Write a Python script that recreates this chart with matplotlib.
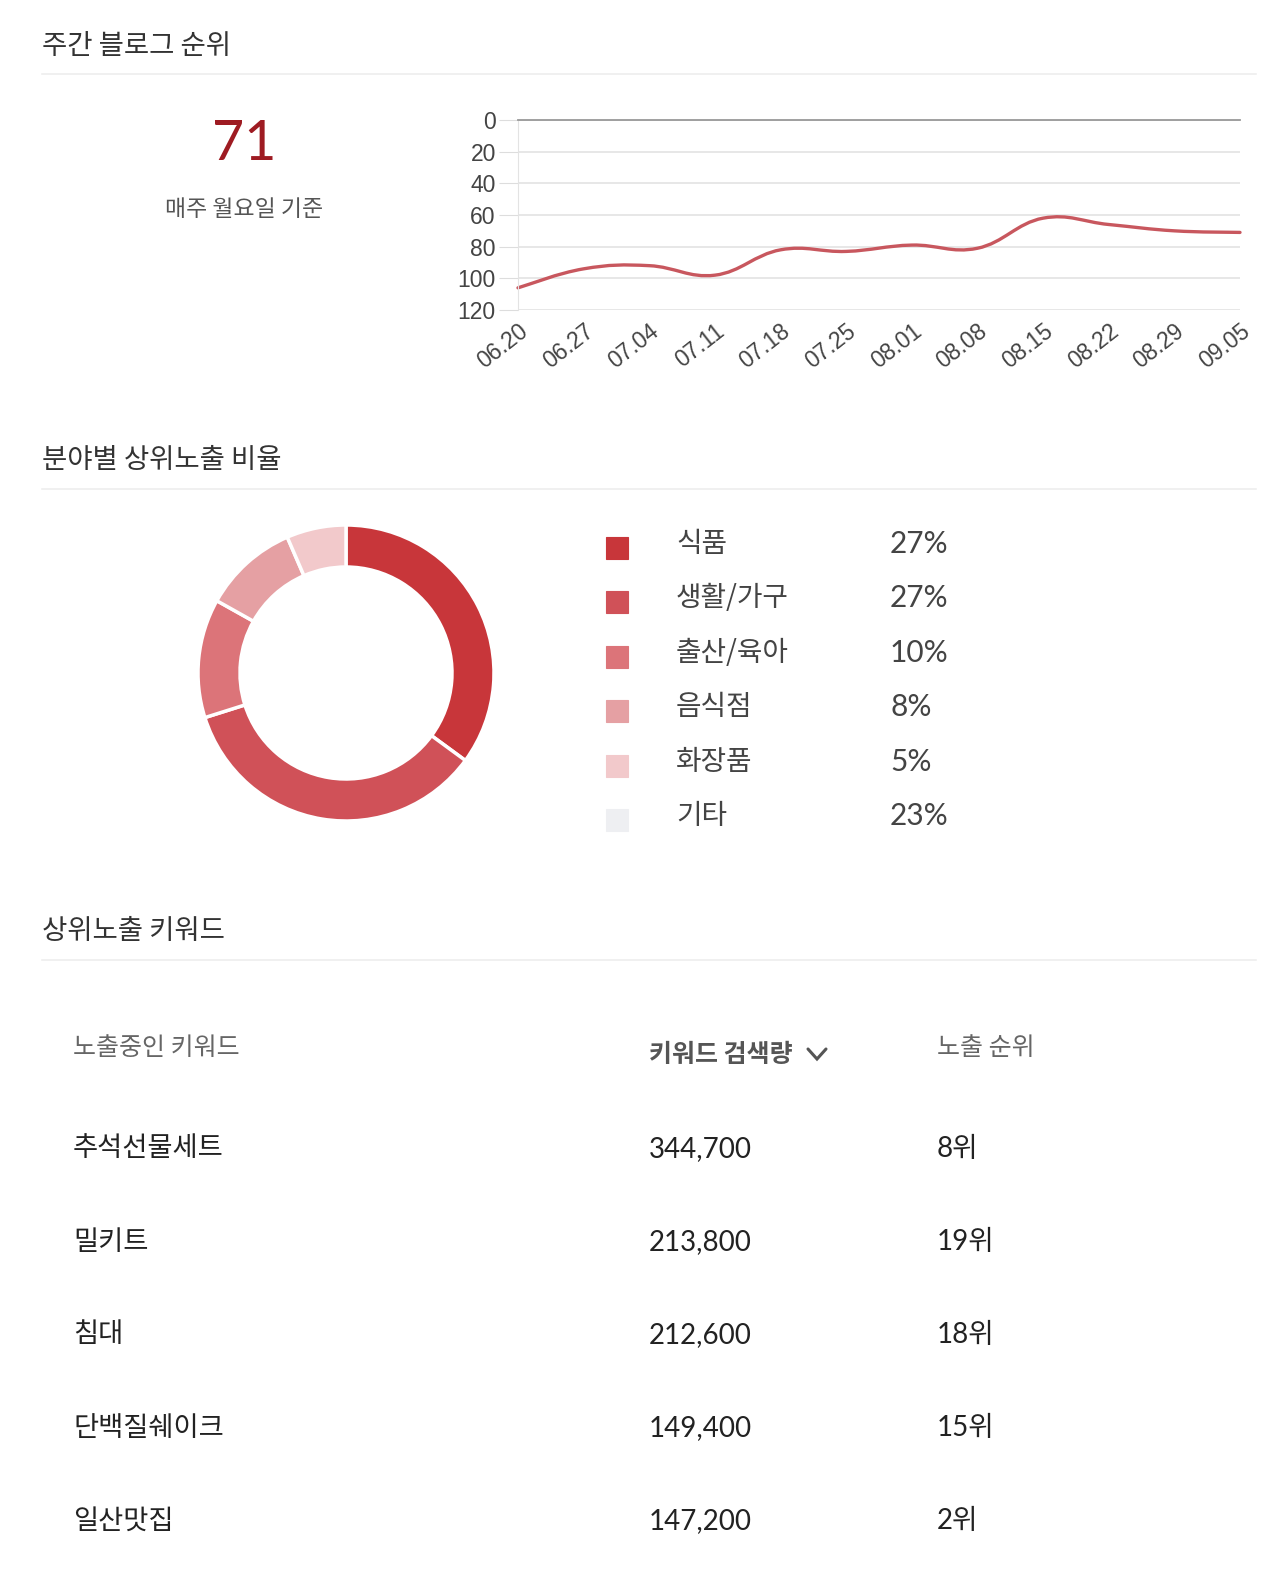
import numpy as np
import matplotlib
matplotlib.use('Agg')
import matplotlib.pyplot as plt
from matplotlib.path import Path
from matplotlib.patches import PathPatch
from matplotlib.lines import Line2D

############################### DATA ##########################################

weeks = ['06.20', '06.27', '07.04', '07.11', '07.18', '07.25',
         '08.01', '08.08', '08.15', '08.22', '08.29', '09.05']
rank  = [106, 94, 92, 98, 82, 83, 79, 81, 62, 66, 70, 71]
current_rank = 71

cat_names  = ['식품', '생활/가구', '출산/육아', '음식점', '화장품', '기타']
cat_share  = [27, 27, 10, 8, 5, 23]
cat_colors = ['#c8363a', '#d05158', '#dc7479', '#e5a0a3', '#f2c9cb', '#eeeff2']

kw_names  = ['추석선물세트', '밀키트', '침대', '단백질쉐이크', '일산맛집']
kw_volume = [344700, 213800, 212600, 149400, 147200]
kw_rank   = [8, 19, 18, 15, 2]

############################### SETUP #########################################

W, H = 1280, 1571
KR = ['Noto Sans CJK KR', 'DejaVu Sans']
NUM = ['Lato', 'Noto Sans CJK KR', 'DejaVu Sans']
plt.rcParams['font.family'] = KR

fig = plt.figure(figsize=(W / 100, H / 100), dpi=100)
fig.patch.set_facecolor('white')

def fx(x):
    return x / W

def fy(y):
    return 1 - y / H

def txt(x, y, s, size, color, family=KR, ha='left', **kw):
    # va='center' puts glyphs a few px high, so nudge down
    fig.text(fx(x), fy(y + 3), s, fontsize=size, color=color, ha=ha,
             va='center', family=family, **kw)

def section(title, y_text, y_line):
    txt(42, y_text, title, 19.8, '#333333')
    fig.add_artist(Line2D([fx(42), fx(1256)], [fy(y_line), fy(y_line)],
                          color='#eeeeee', lw=1.2))

############################ WEEKLY RANK ######################################

section('주간 블로그 순위', 43, 74)
txt(244, 141, str(current_rank), 40, '#9e1b22', family=NUM, ha='center')
txt(244, 206, '매주 월요일 기준', 16.5, '#555555', ha='center')

ax = fig.add_axes([fx(518), fy(310), (1240 - 518) / W, (310 - 120) / H])
ax.set_xlim(0, len(weeks) - 1)
ax.set_ylim(120, 0)
ax.set_yticks(range(0, 121, 20))
ax.set_xticks(range(len(weeks)))
ax.set_xticklabels(weeks, rotation=38, ha='right', va='top',
                   rotation_mode='anchor', family='Liberation Sans',
                   fontsize=16.5, color='#444444')
for lbl in ax.get_yticklabels():
    lbl.set_family('Liberation Sans')
    lbl.set_fontsize(16.5)
    lbl.set_color('#444444')
ax.tick_params(axis='y', length=14, color='#dddddd', pad=2)
ax.tick_params(axis='x', length=0, pad=7)
ax.grid(axis='y', color='#e3e3e3', lw=1.2)
ax.set_axisbelow(True)
for s in ['right', 'bottom']:
    ax.spines[s].set_visible(False)
ax.spines['left'].set_color('#e3e3e3')
ax.spines['top'].set_color('#999999')
ax.spines['top'].set_linewidth(1.3)

# smooth curve through the weekly values (bezier segments, tension 0.4)
xs = np.arange(len(rank), dtype=float)
ys = np.array(rank, dtype=float)
t = 0.2
verts = [(xs[0], ys[0])]
codes = [Path.MOVETO]
for i in range(len(xs) - 1):
    p0 = i - 1 if i > 0 else i
    p3 = i + 2 if i + 2 < len(xs) else i + 1
    c1 = (xs[i] + t * (xs[i + 1] - xs[p0]), ys[i] + t * (ys[i + 1] - ys[p0]))
    c2 = (xs[i + 1] - t * (xs[p3] - xs[i]), ys[i + 1] - t * (ys[p3] - ys[i]))
    verts += [c1, c2, (xs[i + 1], ys[i + 1])]
    codes += [Path.CURVE4] * 3
ax.add_patch(PathPatch(Path(verts, codes), fill=False, edgecolor='#c8575e',
                       lw=2.4, capstyle='round', clip_on=False))

########################## CATEGORY SHARE #####################################

section('분야별 상위노출 비율', 458, 489)

R = 148
box = 170
ax2 = fig.add_axes([fx(346 - box), fy(673 + box), 2 * box / W, 2 * box / H])
ax2.pie(cat_share[:5], colors=cat_colors[:5], startangle=90, counterclock=False,
        radius=1, wedgeprops=dict(width=42 / R, edgecolor='white', linewidth=2.5))
ax2.set_xlim(-box / R, box / R)
ax2.set_ylim(-box / R, box / R)
ax2.set_aspect('equal')
ax2.axis('off')

for i, (name, share, col) in enumerate(zip(cat_names, cat_share, cat_colors)):
    yc = 548 + i * 54.4
    sq = 22
    fig.add_artist(plt.Rectangle((fx(606), fy(yc + sq / 2)), sq / W, sq / H,
                                 facecolor=col, edgecolor=col, lw=0.8,
                                 transform=fig.transFigure))
    txt(676, yc - 7, name, 20, '#444444')
    txt(890, yc - 7, f'{share}%', 21.5, '#444444', family=NUM)

########################### KEYWORD TABLE #####################################

section('상위노출 키워드', 929, 960)

col_x = [73, 649, 937]
txt(col_x[0], 1045, '노출중인 키워드', 18, '#666666')
txt(col_x[1], 1052, '키워드 검색량', 18, '#555555', fontweight='bold')
txt(col_x[2], 1045, '노출 순위', 18, '#666666')
# sort chevron
fig.add_artist(Line2D([fx(808), fx(817), fx(826)], [fy(1049), fy(1059), fy(1049)],
                      color='#555555', lw=2.2, solid_capstyle='round',
                      solid_joinstyle='miter'))

for i, (name, vol, rk) in enumerate(zip(kw_names, kw_volume, kw_rank)):
    yc = 1146 + i * 93
    txt(col_x[0], yc, name, 19.7, '#222222')
    txt(col_x[1], yc, f'{vol:,}', 20, '#222222', family=NUM)
    txt(col_x[2], yc, f'{rk}위', 20, '#222222', family=NUM)

fig.savefig('out.png', dpi=100, facecolor='white')
